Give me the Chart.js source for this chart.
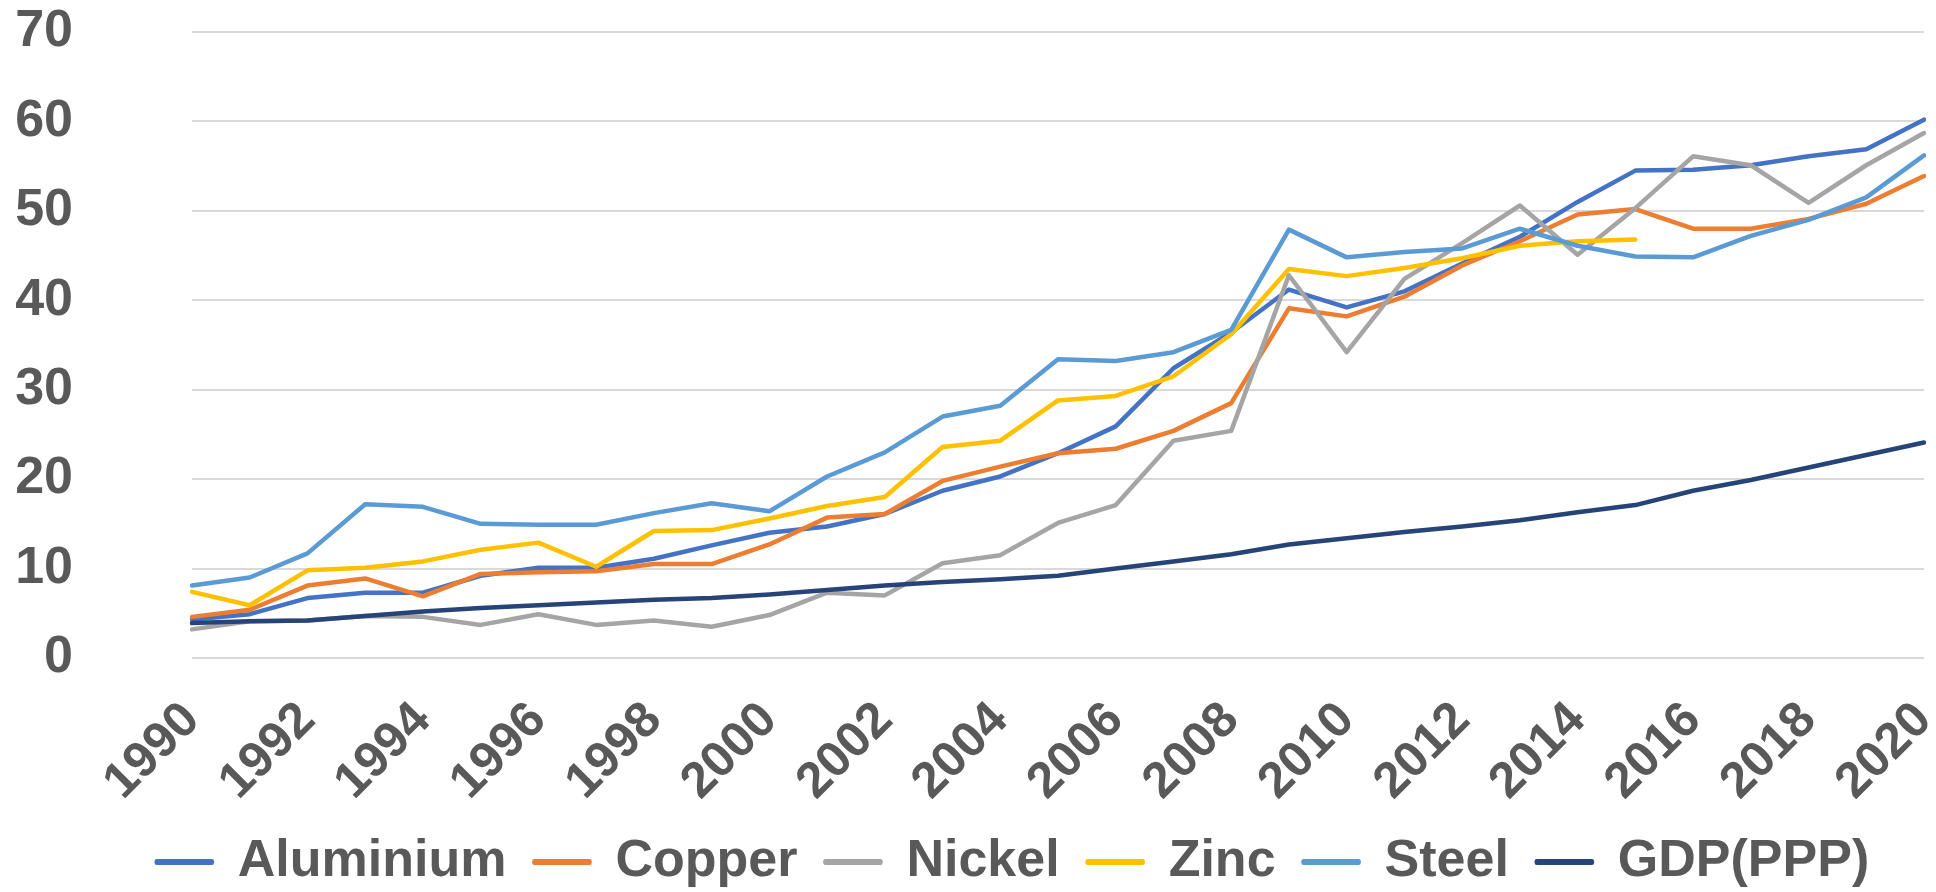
<!DOCTYPE html>
<html>
<head>
<meta charset="utf-8">
<script src="https://cdn.jsdelivr.net/npm/chart.js@4/dist/chart.umd.min.js"></script>
<style>
  html, body { margin: 0; padding: 0; background: #fff; }
  #wrap { width: 1936px; height: 892px; position: relative; }
</style>
</head>
<body>
<div id="wrap"><canvas id="metalChart"></canvas></div>
<script>
// years on the x axis, only every second one is labelled
const years = [];
for (let y = 1990; y <= 2020; y++) years.push(String(y));

const aluminium = [4.3, 4.9, 6.7, 7.3, 7.3, 9.2, 10.1, 10.1, 11.1, 12.6, 14.0, 14.7, 16.1, 18.7, 20.3, 22.9, 25.9, 32.4, 36.4, 41.2, 39.2, 41.0, 44.1, 47.1, 51.0, 54.5, 54.6, 55.1, 56.1, 56.9, 60.2];
const copper    = [4.6, 5.4, 8.1, 8.9, 6.9, 9.4, 9.6, 9.7, 10.5, 10.5, 12.7, 15.7, 16.1, 19.8, 21.4, 22.9, 23.4, 25.4, 28.5, 39.1, 38.2, 40.4, 43.9, 46.6, 49.6, 50.2, 48.0, 48.0, 49.1, 50.8, 53.9];
const nickel    = [3.2, 4.1, 4.2, 4.7, 4.6, 3.7, 4.9, 3.7, 4.2, 3.5, 4.8, 7.3, 7.0, 10.6, 11.5, 15.1, 17.1, 24.3, 25.4, 42.8, 34.2, 42.4, 46.4, 50.6, 45.1, 50.3, 56.1, 55.1, 50.9, 55.1, 58.7];
const zinc      = [7.4, 5.9, 9.8, 10.1, 10.8, 12.1, 12.9, 10.2, 14.2, 14.3, 15.6, 17.0, 18.0, 23.6, 24.3, 28.8, 29.3, 31.5, 36.2, 43.5, 42.7, 43.6, 44.7, 46.1, 46.6, 46.8, null, null, null, null, null];
const steel     = [8.1, 9.0, 11.7, 17.2, 16.9, 15.0, 14.9, 14.9, 16.2, 17.3, 16.4, 20.3, 23.0, 27.0, 28.2, 33.4, 33.2, 34.2, 36.7, 47.9, 44.8, 45.4, 45.8, 48.0, 46.1, 44.9, 44.8, 47.2, 49.0, 51.5, 56.2];
const gdpPpp    = [3.9, 4.1, 4.2, 4.7, 5.2, 5.6, 5.9, 6.2, 6.5, 6.7, 7.1, 7.6, 8.1, 8.5, 8.8, 9.2, 10.0, 10.8, 11.6, 12.7, 13.4, 14.1, 14.7, 15.4, 16.3, 17.1, 18.7, 19.9, 21.3, 22.7, 24.1];

const yTicks = { min: 0, max: 70, step: 10 };

const textGray = '#595959';
const font = { family: '"Liberation Sans", Arial, sans-serif', weight: 'bold', size: 52 };

// series: label, data, colour (later series drawn on top, like the source)
const series = [
    ['Aluminium', aluminium, '#4472C4'],
    ['Copper', copper, '#ED7D31'],
    ['Nickel', nickel, '#A5A5A5'],
    ['Zinc', zinc, '#FFC000'],
    ['Steel', steel, '#5B9BD5'],
    ['GDP(PPP)', gdpPpp, '#264478']
];

// legend: shorter box than chart.js wants, and nudged right a bit
const legendTweak = {
    id: 'legendTweak',
    afterInit(chart) {
        const lg = chart.legend;
        if (!lg) return;
        const fit = lg.fit;
        lg.fit = function () {
            fit.call(this);
            this.height = 84;
        };
    },
    afterLayout(chart) {
        const lg = chart.legend;
        if (!lg) return;
        lg.left += 45;
        lg.right += 45;
    }
};

new Chart(document.getElementById('metalChart'), {
    type: 'line',
    data: {
        labels: years,
        datasets: series.map(([label, data, color], i) => ({
            label: label,
            data: data,
            borderColor: color,
            backgroundColor: color,
            borderWidth: 4.5,
            pointRadius: 0,
            tension: 0,
            fill: false,
            borderCapStyle: 'round',
            borderJoinStyle: 'round',
            order: series.length - i
        }))
    },
    options: {
        responsive: true,
        maintainAspectRatio: false,
        animation: false,
        layout: { padding: { top: 32, right: 12, left: 12, bottom: 0 } },
        plugins: {
            tooltip: { enabled: false },
            legend: {
                position: 'bottom',
                labels: {
                    color: textGray,
                    font: font,
                    boxWidth: 55,
                    boxHeight: 1.5,
                    padding: 28,
                    sort: (a, b) => a.datasetIndex - b.datasetIndex
                }
            }
        },
        scales: {
            x: {
                offset: false,
                grid: { display: false },
                border: { display: false },
                ticks: {
                    color: textGray,
                    font: { ...font, size: 50 },
                    autoSkip: false,
                    minRotation: 45,
                    maxRotation: 45,
                    padding: 25,
                    callback: function (val, i) { return i % 2 === 0 ? this.getLabelForValue(val) : ''; }
                },
                afterFit: (axis) => {
                    axis.height = 150;
                    axis.paddingLeft = 0;
                    axis.paddingRight = 0;
                }
            },
            y: {
                min: yTicks.min,
                max: yTicks.max,
                grid: { color: '#D9D9D9', lineWidth: 2, drawTicks: false },
                border: { display: false },
                ticks: {
                    stepSize: yTicks.step,
                    color: textGray,
                    font: font,
                    padding: 119
                },
                afterFit: (axis) => {
                    axis.width = 180;
                    axis.paddingTop = 0;
                    axis.paddingBottom = 0;
                }
            }
        }
    },
    plugins: [legendTweak]
});
</script>
</body>
</html>
